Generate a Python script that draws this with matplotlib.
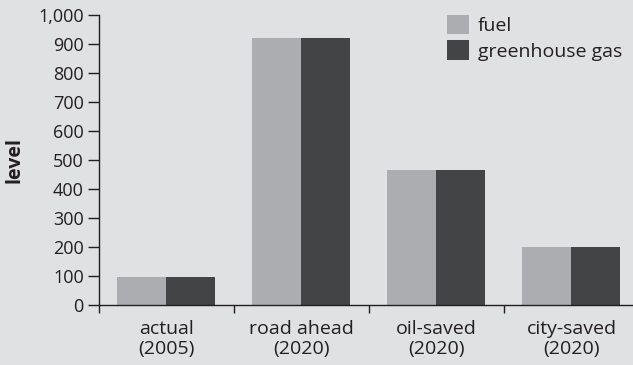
import numpy as np
import matplotlib
matplotlib.use('Agg')
import matplotlib.pyplot as plt

categories = ['actual\n(2005)', 'road ahead\n(2020)', 'oil-saved\n(2020)', 'city-saved\n(2020)']
fuel = [97, 920, 465, 200]
greenhouse = [97, 920, 465, 200]
series_names = ['fuel', 'greenhouse gas']

BG = '#e0e1e3'
C_FUEL = '#abadb0'
C_GHG = '#434446'
TXT = '#231f20'

plt.rcParams['font.family'] = ['Open Sans', 'DejaVu Sans']

fig = plt.figure(figsize=(6.33, 3.65), dpi=100, facecolor=BG)
ax = fig.add_axes([99/633, 60.3/365, 1 - 99/633, (304.7-15.3)/365])
ax.set_facecolor(BG)

x = np.arange(len(categories))
w = 0.363
ax.bar(x - w/2, fuel, w, color=C_FUEL, label=series_names[0])
ax.bar(x + w/2, greenhouse, w, color=C_GHG, label=series_names[1])

ax.set_xlim(-0.5, 3.456)
ax.set_ylim(0, 1000)
ax.set_yticks(np.arange(0, 1001, 100))
ax.set_yticklabels([f'{v:,}' for v in range(0, 1001, 100)], fontsize=13, color=TXT)

# category boundaries as ticks, labels at centres
ax.set_xticks([-0.5, 0.5, 1.5, 2.5])
ax.set_xticklabels([])
ax.set_xticks(x, minor=True)
ax.set_xticklabels(categories, minor=True, fontsize=14, color=TXT, linespacing=1.15)
ax.tick_params(axis='x', which='minor', length=0, pad=11)
ax.tick_params(axis='x', which='major', length=6, width=1, color=TXT, direction='out')
ax.tick_params(axis='y', length=8, width=1, color=TXT, direction='out', pad=3)

for s in ['top', 'right']:
    ax.spines[s].set_visible(False)
for s in ['left', 'bottom']:
    ax.spines[s].set_color(TXT)
    ax.spines[s].set_linewidth(1)

ax.set_ylabel('level', fontsize=14, fontweight='bold', color=TXT, labelpad=10)

leg = ax.legend(loc='upper left', bbox_to_anchor=(0.652, 1.0), frameon=False,
                fontsize=14, handlelength=1.13, handleheight=1.13,
                handletextpad=0.46, labelspacing=0.26, borderaxespad=0,
                borderpad=0)
for t in leg.get_texts():
    t.set_color(TXT)

fig.savefig('out.png', dpi=100, facecolor=BG)
